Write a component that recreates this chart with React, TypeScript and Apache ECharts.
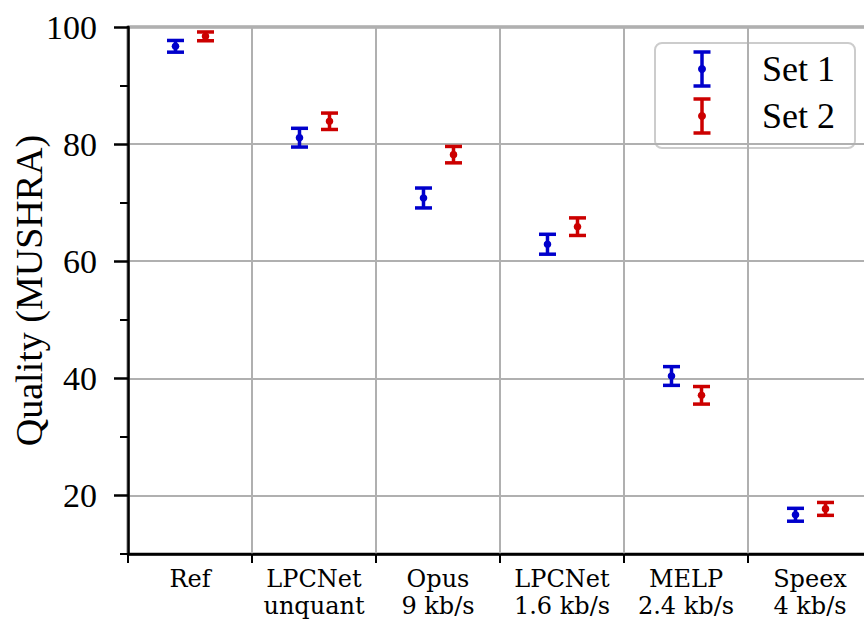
import React, { useEffect, useRef } from 'react';
import * as echarts from 'echarts';

const categories = ['Ref', 'LPCNet\nunquant', 'Opus\n9 kb/s', 'LPCNet\n1.6 kb/s', 'MELP\n2.4 kb/s', 'Speex\n4 kb/s'];
const seriesNames = ['Set 1', 'Set 2'];
const set1Mean = [96.7, 81.1, 70.8, 62.9, 40.4, 16.7];
const set1Err = [1.0, 1.6, 1.7, 1.7, 1.6, 1.1];
const set2Mean = [98.4, 83.9, 78.2, 65.9, 37.1, 17.7];
const set2Err = [0.75, 1.4, 1.4, 1.5, 1.5, 1.1];
const yLabelTicks = [20, 40, 60, 80, 100];
const yMinorTicks = [10, 30, 50, 70, 90];

const BLUE = '#0000cc';
const RED = '#cc0000';
const SERIF = '"Liberation Serif", "Times New Roman", serif';

function makeRender(offsetFrac: number, color: string) {
  return (params: any, api: any) => {
    const idx = api.value(0);
    const m = api.value(1);
    const e = api.value(2);
    const bw = api.size([1, 0])[0];
    const c = api.coord([idx, m]);
    const x = c[0] + offsetFrac * bw;
    const yT = api.coord([idx, m + e])[1];
    const yB = api.coord([idx, m - e])[1];
    const style = { stroke: color, lineWidth: 3.5 };
    return {
      type: 'group',
      children: [
        { type: 'line', shape: { x1: x, y1: yT, x2: x, y2: yB }, style },
        { type: 'line', shape: { x1: x - 8.5, y1: yT, x2: x + 8.5, y2: yT }, style },
        { type: 'line', shape: { x1: x - 8.5, y1: yB, x2: x + 8.5, y2: yB }, style },
        { type: 'circle', shape: { cx: x, cy: c[1], r: 3.8 }, style: { fill: color } },
      ],
    };
  };
}

function legendIcon(x: number, y: number, color: string) {
  const style = { stroke: color, lineWidth: 3.5 };
  return [
    { type: 'line', shape: { x1: x, y1: y - 17, x2: x, y2: y + 17 }, style },
    { type: 'line', shape: { x1: x - 8.5, y1: y - 17, x2: x + 8.5, y2: y - 17 }, style },
    { type: 'line', shape: { x1: x - 8.5, y1: y + 17, x2: x + 8.5, y2: y + 17 }, style },
    { type: 'circle', shape: { cx: x, cy: y, r: 4 }, style: { fill: color } },
  ];
}

export default function App() {
  const ref = useRef<HTMLDivElement>(null);
  useEffect(() => {
    const chart = echarts.init(ref.current!, null, { renderer: 'svg' });
    const option: any = {
      animation: false,
      backgroundColor: '#fff',
      grid: {
        left: 128, right: -8, top: 27, bottom: 66,
        outerBoundsMode: 'none', containLabel: false,
        show: true, borderColor: '#000', borderWidth: 2.5,
      },
      xAxis: {
        type: 'category',
        data: categories,
        boundaryGap: true,
        axisLine: { show: true, lineStyle: { color: '#000', width: 2.5 } },
        axisTick: { show: true, interval: 0, length: 9, lineStyle: { color: '#000', width: 2 } },
        splitLine: { show: true, interval: 0, lineStyle: { color: '#b0b0b0', width: 2 } },
        axisLabel: {
          interval: 0, margin: 11, color: '#000',
          fontFamily: '"DejaVu Serif", serif', fontSize: 24, lineHeight: 27,
        },
      },
      yAxis: [
        {
          type: 'value', min: 10, max: 100, interval: 10,
          name: 'Quality (MUSHRA)', nameLocation: 'middle', nameGap: 80, nameMoveOverlap: false,
          nameTextStyle: { fontFamily: SERIF, fontSize: 38, color: '#000' },
          axisLine: { show: true, lineStyle: { color: '#000', width: 2.5 } },
          axisTick: { show: true, customValues: yLabelTicks, length: 14, lineStyle: { color: '#000', width: 2.5 } },
          axisLabel: { customValues: yLabelTicks, margin: 31, color: '#000', fontFamily: SERIF, fontSize: 34 },
          splitLine: { show: true, lineStyle: { color: '#b0b0b0', width: 2 } },
        },
        {
          type: 'value', min: 10, max: 100, interval: 10, position: 'left',
          axisLine: { show: false },
          axisTick: { show: true, customValues: yMinorTicks, length: 8, lineStyle: { color: '#000', width: 2 } },
          axisLabel: { show: false },
          splitLine: { show: false },
        },
      ],
      series: [
        {
          type: 'custom', name: seriesNames[0], xAxisIndex: 0, yAxisIndex: 0,
          renderItem: makeRender(-0.117, BLUE),
          encode: { x: 0, y: 1 },
          data: set1Mean.map((m, i) => [i, m, set1Err[i]]),
          z: 5,
        },
        {
          type: 'custom', name: seriesNames[1], xAxisIndex: 0, yAxisIndex: 0,
          renderItem: makeRender(0.125, RED),
          encode: { x: 0, y: 1 },
          data: set2Mean.map((m, i) => [i, m, set2Err[i]]),
          z: 5,
        },
      ],
      graphic: [
        {
          type: 'group', z: 100,
          children: [
            {
              type: 'rect', shape: { x: 655, y: 43, width: 200, height: 105, r: 7 },
              style: { fill: 'rgba(255,255,255,0.8)', stroke: '#cccccc', lineWidth: 2 },
            },
            ...legendIcon(702, 69, BLUE),
            ...legendIcon(702, 116, RED),
            { type: 'text', x: 762, y: 69, style: { text: seriesNames[0], fontFamily: SERIF, fontSize: 36, fill: '#000', verticalAlign: 'middle' } },
            { type: 'text', x: 762, y: 116, style: { text: seriesNames[1], fontFamily: SERIF, fontSize: 36, fill: '#000', verticalAlign: 'middle' } },
          ],
        },
      ],
    };
    chart.setOption(option);
    return () => chart.dispose();
  }, []);
  return <div ref={ref} style={{ position: 'absolute', left: 0, top: 0, width: 864, height: 620 }} />;
}
